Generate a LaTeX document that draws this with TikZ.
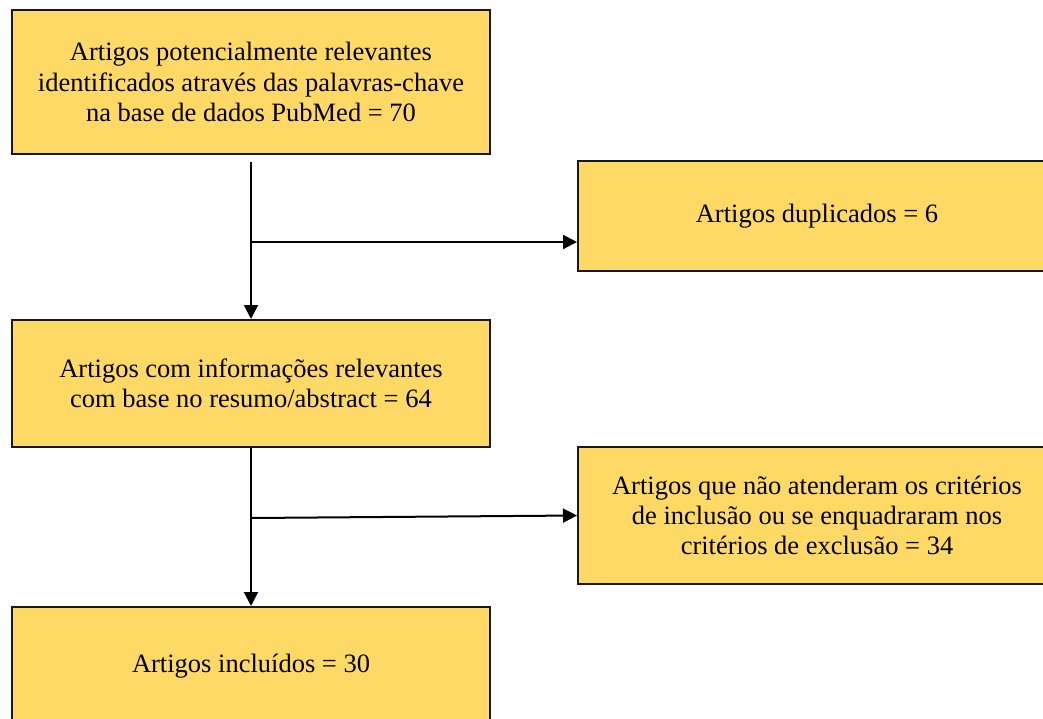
\documentclass[tikz,border=0pt]{standalone}
\usepackage{fontspec}
\setmainfont{Liberation Serif}
\usetikzlibrary{arrows.meta,calc}
\definecolor{boxfill}{RGB}{255,217,102}
\begin{document}
\begin{tikzpicture}[x=1pt,y=1pt,
  flowbox/.style={draw=black!90,line width=2pt,fill=boxfill,rectangle,
    minimum width=478pt,inner sep=0pt,align=center,anchor=north west,
    font=\fontsize{26.5pt}{30.3pt}\selectfont},
  conn/.style={draw=black,line width=2pt,-{Triangle[length=14pt,width=14pt]}}]
\useasboundingbox (0,0) rectangle (1043,-718);
\node[flowbox,minimum height=144pt] (b1) at (11,-9)
  {Artigos potencialmente relevantes\\identificados através das palavras-chave\\na base de dados PubMed = 70};
\node[flowbox,minimum height=110pt] (b2) at (577,-160) {Artigos duplicados = 6};
\node[flowbox,minimum height=127pt] (b3) at (11,-319)
  {Artigos com informações relevantes\\com base no resumo/abstract = 64};
\node[flowbox,minimum height=137pt] (b4) at (577,-446)
  {Artigos que não atenderam os critérios\\de inclusão ou se enquadraram nos\\critérios de exclusão = 34};
\node[flowbox,minimum height=118pt] (b5) at (11,-606) {Artigos incluídos = 30};
\coordinate (s1) at ($(b1.south)+(0,-7)$);
\coordinate (j1) at ($(b1.south)+(0,-87)$);
\coordinate (j2) at ($(b3.south)+(0,-70)$);
\draw[conn] (s1) -- (b3.north);
\draw[conn] (j1) -- (b2.west |- j1);
\draw[conn] (b3.south) -- (b5.north);
\draw[conn] (j2) -- (b4.west);
\end{tikzpicture}
\end{document}
